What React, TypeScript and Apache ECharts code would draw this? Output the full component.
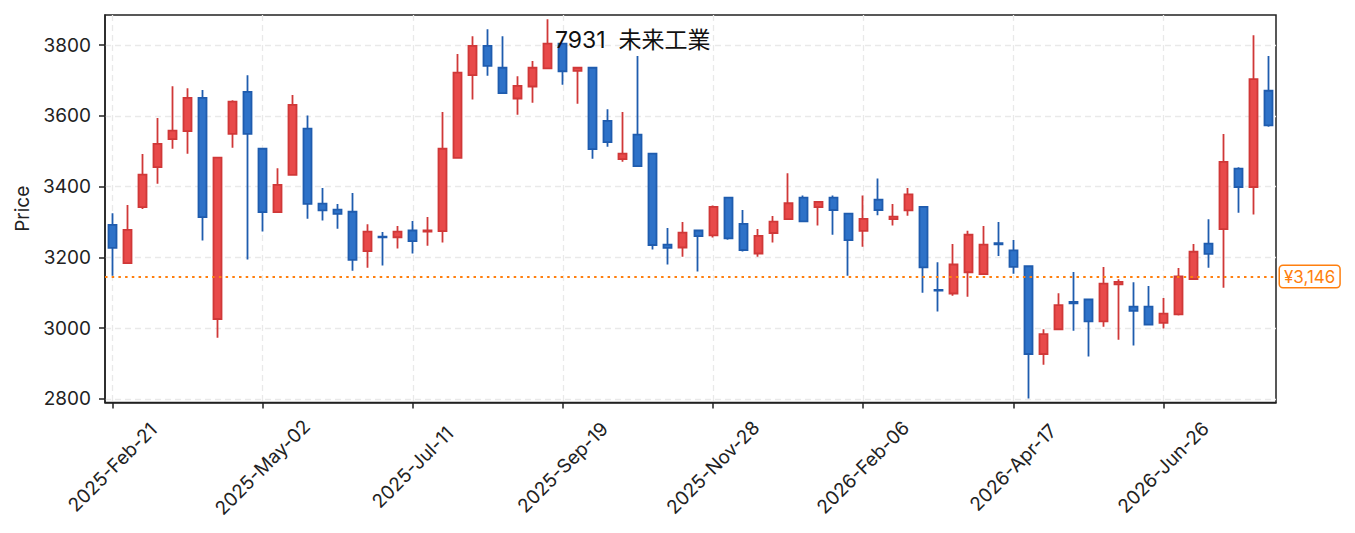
import React, { useEffect, useRef } from "react";
import * as echarts from "echarts";

const categories = [
  "2025-Feb-21", "2025-Feb-28", "2025-Mar-07", "2025-Mar-14", "2025-Mar-21", "2025-Mar-28",
  "2025-Apr-04", "2025-Apr-11", "2025-Apr-18", "2025-Apr-25", "2025-May-02", "2025-May-09",
  "2025-May-16", "2025-May-23", "2025-May-30", "2025-Jun-06", "2025-Jun-13", "2025-Jun-20",
  "2025-Jun-27", "2025-Jul-04", "2025-Jul-11", "2025-Jul-18", "2025-Jul-25", "2025-Aug-01",
  "2025-Aug-08", "2025-Aug-15", "2025-Aug-22", "2025-Aug-29", "2025-Sep-05", "2025-Sep-12",
  "2025-Sep-19", "2025-Sep-26", "2025-Oct-03", "2025-Oct-10", "2025-Oct-17", "2025-Oct-24",
  "2025-Oct-31", "2025-Nov-07", "2025-Nov-14", "2025-Nov-21", "2025-Nov-28", "2025-Dec-05",
  "2025-Dec-12", "2025-Dec-19", "2025-Dec-26", "2026-Jan-02", "2026-Jan-09", "2026-Jan-16",
  "2026-Jan-23", "2026-Jan-30", "2026-Feb-06", "2026-Feb-13", "2026-Feb-20", "2026-Feb-27",
  "2026-Mar-06", "2026-Mar-13", "2026-Mar-20", "2026-Mar-27", "2026-Apr-03", "2026-Apr-10",
  "2026-Apr-17", "2026-Apr-24", "2026-May-01", "2026-May-08", "2026-May-15", "2026-May-22",
  "2026-May-29", "2026-Jun-05", "2026-Jun-12", "2026-Jun-19", "2026-Jun-26", "2026-Jul-03",
  "2026-Jul-10", "2026-Jul-17", "2026-Jul-24", "2026-Jul-31", "2026-Aug-07", "2026-Aug-14",
];

const opens = [
  3292, 3184, 3342, 3455, 3534, 3557, 3651, 3026, 3549, 3668,
  3507, 3328, 3433, 3564, 3352, 3335, 3329, 3218, 3259, 3257,
  3276, 3273, 3274, 3481, 3715, 3798, 3736, 3649, 3683, 3734,
  3804, 3727, 3736, 3586, 3478, 3547, 3493, 3236, 3228, 3276,
  3262, 3369, 3295, 3211, 3269, 3308, 3369, 3342, 3369, 3324,
  3275, 3363, 3308, 3333, 3343, 3108, 3098, 3158, 3153, 3240,
  3220, 3175, 2927, 2997, 3074, 3081, 3019, 3124, 3061, 3061,
  3015, 3039, 3139, 3239, 3280, 3451, 3399, 3671,
];
const closes = [
  3227, 3278, 3434, 3521, 3558, 3651, 3314, 3482, 3640, 3549,
  3328, 3405, 3631, 3351, 3333, 3323, 3193, 3273, 3257, 3273,
  3246, 3276, 3507, 3722, 3798, 3741, 3664, 3685, 3736, 3804,
  3726, 3736, 3506, 3526, 3493, 3458, 3235, 3227, 3270, 3260,
  3343, 3254, 3221, 3261, 3301, 3353, 3302, 3357, 3334, 3249,
  3309, 3334, 3315, 3378, 3172, 3106, 3180, 3264, 3236, 3237,
  3173, 2927, 2983, 3065, 3070, 3019, 3126, 3131, 3049, 3010,
  3041, 3146, 3216, 3210, 3470, 3399, 3704, 3573,
];
const lows = [
  3148, 3182, 3337, 3408, 3507, 3493, 3248, 2973, 3510, 3194,
  3273, 3328, 3433, 3309, 3304, 3281, 3162, 3171, 3177, 3225,
  3211, 3233, 3242, 3481, 3646, 3713, 3664, 3603, 3637, 3734,
  3688, 3634, 3479, 3513, 3470, 3458, 3222, 3180, 3202, 3160,
  3256, 3250, 3217, 3202, 3242, 3308, 3302, 3290, 3264, 3148,
  3230, 3319, 3290, 3318, 3100, 3047, 3092, 3089, 3153, 3204,
  3154, 2801, 2897, 2997, 2993, 2920, 3004, 2967, 2951, 3010,
  2999, 3036, 3139, 3171, 3114, 3326, 3321, 3569,
];
const highs = [
  3325, 3348, 3492, 3594, 3684, 3678, 3673, 3482, 3644, 3715,
  3507, 3452, 3659, 3601, 3396, 3351, 3382, 3294, 3272, 3289,
  3303, 3314, 3611, 3775, 3825, 3845, 3825, 3712, 3755, 3873,
  3804, 3736, 3736, 3619, 3611, 3769, 3493, 3283, 3300, 3276,
  3347, 3369, 3334, 3280, 3317, 3438, 3375, 3358, 3375, 3324,
  3375, 3423, 3351, 3396, 3343, 3186, 3238, 3275, 3289, 3300,
  3249, 3178, 2997, 3099, 3159, 3081, 3173, 3138, 3130, 3119,
  3085, 3170, 3238, 3308, 3549, 3455, 3828, 3769,
];

const yTicks = [2800, 3000, 3200, 3400, 3600, 3800];
const refPrice = 3146;
const titleText = "7931  未来工業";
const yName = "Price";

const FONT = "Inter, 'Noto Sans CJK JP', sans-serif";

export default function App() {
  const ref = useRef<HTMLDivElement>(null);

  useEffect(() => {
    document.body.style.margin = "0";
    if (!ref.current) return;
    const chart = echarts.init(ref.current, null, { renderer: "svg" });
    const candleData = opens.map((o, i) => [o, closes[i], lows[i], highs[i]]);

    chart.setOption({
      animation: false,
      backgroundColor: "#ffffff",
      textStyle: { fontFamily: FONT },
      title: {
        text: titleText,
        left: 555,
        top: 28,
        padding: 0,
        textStyle: { fontSize: 23, fontWeight: "normal", color: "#111", fontFamily: FONT },
      },
      grid: {
        left: 105,
        right: 79,
        top: 15,
        bottom: 130.5,
        show: true,
        borderColor: "#222",
        borderWidth: 1.5,
        backgroundColor: "transparent",
      },
      xAxis: {
        type: "category",
        data: categories,
        boundaryGap: true,
        axisLine: { show: true, lineStyle: { color: "#222", width: 1.5 } },
        axisTick: {
          show: true,
          interval: 9,
          alignWithLabel: true,
          length: 6,
          lineStyle: { color: "#222", width: 1.5 },
        },
        axisLabel: {
          interval: 9,
          rotate: 45,
          align: "center",
          verticalAlign: "middle",
          margin: 65,
          fontSize: 19,
          color: "#222",
          fontFamily: FONT,
        },
        splitLine: {
          show: true,
          interval: 9,
          alignWithLabel: true,
          lineStyle: { color: "#e9e9e9", type: [6, 4], width: 1.3 },
        },
      },
      yAxis: {
        type: "value",
        min: 2790,
        max: 3885,
        scale: true,
        name: yName,
        nameLocation: "middle",
        nameGap: 72,
        nameTextStyle: { fontSize: 19, color: "#222", fontFamily: FONT },
        axisLine: { show: true, lineStyle: { color: "#222", width: 1.5 } },
        axisTick: {
          show: true,
          length: 6,
          customValues: yTicks,
          lineStyle: { color: "#222", width: 1.5 },
        },
        axisLabel: {
          customValues: yTicks,
          formatter: (v: number) => String(v),
          margin: 14,
          fontSize: 19,
          color: "#222",
          fontFamily: FONT,
        },
        splitLine: {
          show: true,
          lineStyle: { color: "#e9e9e9", type: [6, 4], width: 1.3 },
        },
      },
      series: [
        {
          type: "candlestick",
          data: candleData,
          barWidth: 8.5,
          itemStyle: {
            color: "#e84a4a",
            color0: "#2e72c8",
            borderColor: "#d03838",
            borderColor0: "#1f5cae",
            borderWidth: 1.8,
          },
          markLine: {
            silent: true,
            symbol: "none",
            data: [{ yAxis: refPrice }],
            lineStyle: { color: "#ff7f0e", type: [2.5, 4.2], width: 2.2 },
            label: {
              show: true,
              position: "end",
              distance: 4,
              formatter: "¥" + refPrice.toLocaleString("en-US"),
              color: "#ff7f0e",
              fontSize: 17,
              fontFamily: FONT,
              backgroundColor: "#ffffff",
              borderColor: "#ff7f0e",
              borderWidth: 1.5,
              borderRadius: 3,
              padding: [2, 4],
            },
          },
        },
      ],
    });

    return () => chart.dispose();
  }, []);

  return <div ref={ref} style={{ width: 1355, height: 533 }} />;
}
